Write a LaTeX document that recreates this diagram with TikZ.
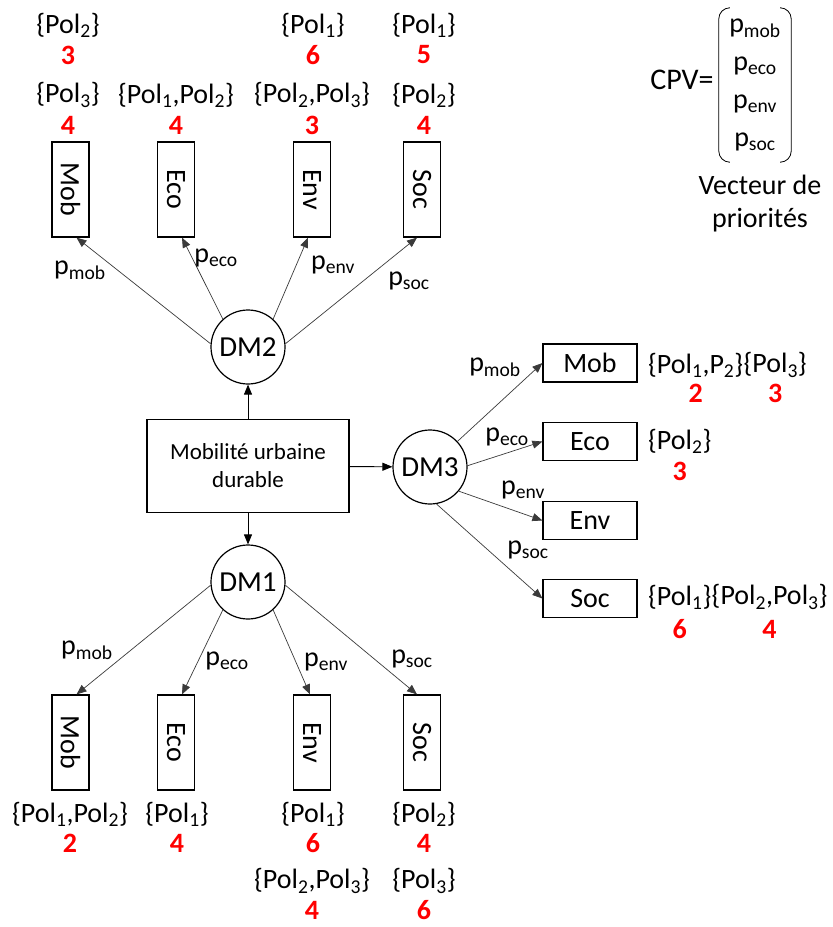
\documentclass[tikz,border=0pt]{standalone}
\usepackage{fontspec}
\setmainfont{Carlito}
\usepackage{graphicx}
\usepackage{tikz}
\usetikzlibrary{arrows.meta,positioning,calc}
\definecolor{numred}{HTML}{FF0000}
\definecolor{lnA}{HTML}{3A3A3A}
\newcommand{\pw}[1]{p\textsubscript{#1}}
\newcommand{\pl}[1]{Pol\textsubscript{#1}}

\begin{document}
\begin{tikzpicture}[x=1pt,y=-1pt,
  every node/.style={font=\fontsize{28}{33}\selectfont,inner sep=0pt},
  dm/.style={circle,draw,line width=1.2pt,minimum size=74pt},
  crit/.style={draw,line width=1.2pt,minimum width=37pt,minimum height=95pt},
  critw/.style={draw,line width=1.2pt,minimum width=94pt,minimum height=38pt},
  arc/.style={draw=lnA,line width=0.7pt,-{Triangle[length=10pt,width=8pt]}},
  num/.style={text=numred,font=\fontsize{28}{33}\selectfont\bfseries}]
  \useasboundingbox (0,0) rectangle (833,927);

  \node[draw,line width=1.2pt,minimum width=202pt,minimum height=93pt,align=center,
        font=\fontsize{23}{28}\selectfont] (goal) at (248,466) {Mobilité urbaine\\durable};
  \node[dm,font=\fontsize{29}{33}\selectfont] (dm2) at (248,347) {DM2};
  \node[dm,font=\fontsize{29}{33}\selectfont] (dm1) at (248,582) {DM1};
  \node[dm,font=\fontsize{29}{33}\selectfont] (dm3) at (430,467) {DM3};
  \draw[arc,draw=black,line width=0.9pt] (goal) -- (dm2);
  \draw[arc,draw=black,line width=0.9pt] (goal) -- (dm1);
  \draw[arc,draw=black,line width=0.9pt] (goal) -- (dm3);

  % criteria boxes
  \foreach \n/\t/\x in {mob/Mob/70.5,eco/Eco/176,env/Env/312,soc/Soc/422} {
    \node[crit] (t\n) at (\x,189.5) {\rotatebox{-90}{\t}};
    \node[crit] (b\n) at (\x,742.5) {\rotatebox{-90}{\t}};
  }
  \foreach \n/\t/\y in {mob/Mob/363,eco/Eco/441.5,env/Env/520.5,soc/Soc/598.5}
    \node[critw] (r\n) at (590,\y) {\t};

  \foreach \n/\a/\d in {mob/175/6,eco/132/6,env/48/-4,soc/5/-5}
    \draw[arc] (dm2.\a) -- ([xshift=\d pt]t\n.south);
  \foreach \n/\a/\d in {mob/-175/6,eco/-132/6,env/-48/-2,soc/-5/-5}
    \draw[arc] (dm1.\a) -- ([xshift=\d pt]b\n.north);
  \foreach \n/\a in {mob/43,eco/2,env/-40,soc/-80}
    \draw[arc] (dm3.\a) -- (r\n.west);

  \foreach \n/\x/\y in {mob/80/270,eco/216/258,env/333/265,soc/409/281}
    \node (l2\n) at (\x,\y) {\pw{\n}};
  \foreach \n/\x/\y in {mob/87/650,eco/227/661,env/326/662,soc/412/659}
    \node (l1\n) at (\x,\y) {\pw{\n}};
  \foreach \n/\x/\y in {mob/495/367,eco/507/437,env/523/490,soc/528/550}
    \node (l3\n) at (\x,\y) {\pw{\n}};

  % DM2 preferences
  \foreach \x/\y/\s/\v [count=\i] in {68/25/{\{\pl{2}\}}/3, 313/25/{\{\pl{1}\}}/6,
      424/25/{\{\pl{1}\}}/5, 68/95/{\{\pl{3}\}}/4, 176/95/{\{\pl{1},\pl{2}\}}/4,
      312/95/{\{\pl{2},\pl{3}\}}/3, 424/95/{\{\pl{2}\}}/4} {
    \node (ts\i) at (\x,\y) {\s};
    \node[num] (tv\i) at (\x,\y+30) {\v};
  }
  % DM1 preferences
  \foreach \x/\y/\s/\v [count=\i] in {70/814/{\{\pl{1},\pl{2}\}}/2, 177/814/{\{\pl{1}\}}/4,
      313/814/{\{\pl{1}\}}/6, 424/814/{\{\pl{2}\}}/4,
      312/881/{\{\pl{2},\pl{3}\}}/4, 424/881/{\{\pl{3}\}}/6} {
    \node (bs\i) at (\x,\y) {\s};
    \node[num] (bv\i) at (\x,\y+29) {\v};
  }
  % DM3 preferences
  \node[anchor=west] (rs1) at (648,365) {\{\pl{1},P\textsubscript{2}\}};
  \node[anchor=west] (rs2) at (rs1.east) {\{\pl{3}\}};
  \node[anchor=west] (rs3) at (648,441) {\{\pl{2}\}};
  \node[anchor=west] (rs4) at (648,597) {\{\pl{1}\}};
  \node[anchor=west] (rs5) at (rs4.east) {\{\pl{2},\pl{3}\}};
  \node[num] (rv1) at (rs1.center |- 0,393) {2};
  \node[num] (rv2) at (rs2.center |- 0,393) {3};
  \node[num] (rv3) at (rs3.center |- 0,471) {3};
  \node[num] (rv4) at (rs4.center |- 0,629) {6};
  \node[num] (rv5) at (rs5.center |- 0,629) {4};

  % priority vector
  \node[font=\fontsize{30}{33}\selectfont] (cpv) at (682,80) {CPV=};
  \node[minimum width=72pt,minimum height=154pt,align=center,
        font=\fontsize{28}{38}\selectfont] (vec) at (755,85)
        {\pw{mob}\\\pw{eco}\\\pw{env}\\\pw{soc}};
  \draw[line width=0.8pt,rounded corners=11pt] ([xshift=10pt]vec.north west) -- (vec.north west)
    -- (vec.south west) -- ([xshift=10pt]vec.south west);
  \draw[line width=0.8pt,rounded corners=11pt] ([xshift=-10pt]vec.north east) -- (vec.north east)
    -- (vec.south east) -- ([xshift=-10pt]vec.south east);
  \node[align=center,font=\fontsize{28}{33}\selectfont] (cap) at (760,204) {Vecteur de\\priorités};
\end{tikzpicture}
\end{document}
